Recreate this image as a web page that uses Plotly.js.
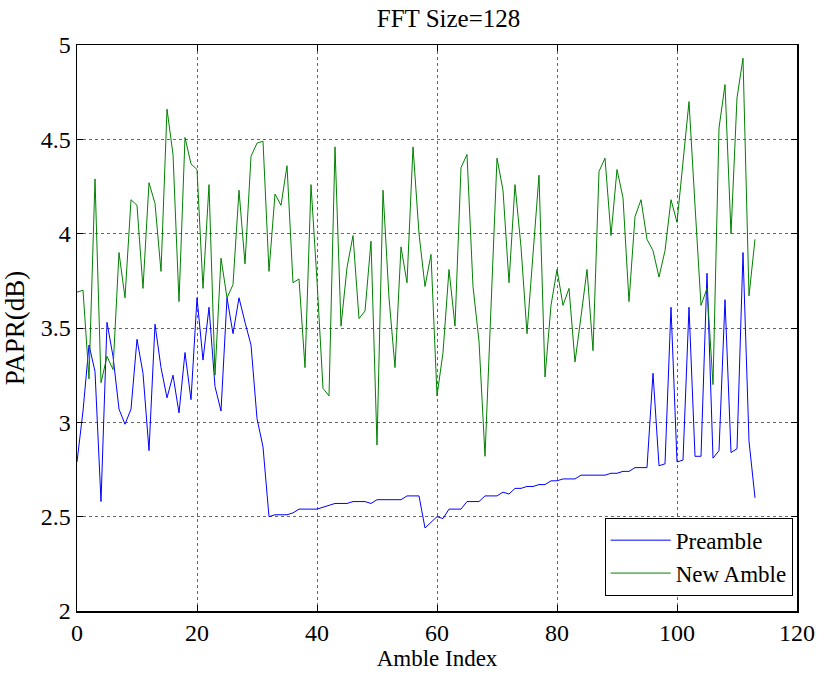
<!DOCTYPE html>
<html>
<head>
<meta charset="utf-8">
<script src="https://cdn.plot.ly/plotly-3.0.1.min.js"></script>
<style>html,body{margin:0;padding:0;background:#fff;}#chart{width:820px;height:675px;}</style>
</head>
<body>
<div id="chart"></div>
<script>
const ambleIndex = [];
for (let i = 0; i <= 113; i++) ambleIndex.push(i);

const preamble = [
  2.79, 3.06, 3.41, 3.27, 2.58, 3.53, 3.35, 3.07, 2.99, 3.07,
  3.44, 3.26, 2.85, 3.52, 3.29, 3.13, 3.25, 3.05, 3.37, 3.12,
  3.66, 3.33, 3.61, 3.19, 3.06, 3.66, 3.47, 3.66, 3.53, 3.41,
  3.02, 2.87, 2.50, 2.51, 2.51, 2.51, 2.52, 2.54, 2.54, 2.54,
  2.54, 2.55, 2.56, 2.57, 2.57, 2.57, 2.58, 2.58, 2.58, 2.57,
  2.59, 2.59, 2.59, 2.59, 2.59, 2.61, 2.61, 2.61, 2.44, 2.47,
  2.50, 2.49, 2.54, 2.54, 2.54, 2.58, 2.58, 2.58, 2.61, 2.61,
  2.61, 2.63, 2.62, 2.65, 2.65, 2.66, 2.66, 2.67, 2.67, 2.69,
  2.69, 2.70, 2.70, 2.70, 2.72, 2.72, 2.72, 2.72, 2.72, 2.73,
  2.73, 2.74, 2.74, 2.76, 2.76, 2.76, 3.26, 2.77, 2.78, 3.61,
  2.79, 2.80, 3.61, 2.82, 2.82, 3.79, 2.81, 2.85, 3.65, 2.84,
  2.86, 3.90, 2.90, 2.60
];

const newAmble = [
  3.69, 3.70, 3.23, 4.29, 3.21, 3.35, 3.28, 3.90, 3.66, 4.18,
  4.15, 3.71, 4.27, 4.16, 3.80, 4.66, 4.42, 3.64, 4.51, 4.37,
  4.34, 3.71, 4.26, 3.25, 3.87, 3.66, 3.73, 4.23, 3.84, 4.41,
  4.48, 4.49, 3.80, 4.21, 4.15, 4.36, 3.74, 3.76, 3.29, 4.26,
  3.75, 3.18, 3.14, 4.46, 3.51, 3.82, 3.99, 3.55, 3.59, 3.96,
  2.88, 4.23, 3.66, 3.29, 3.93, 3.74, 4.46, 4.00, 3.72, 3.89,
  3.14, 3.37, 3.81, 3.51, 4.35, 4.42, 3.72, 3.43, 2.82, 3.60,
  4.40, 4.23, 3.74, 4.26, 3.93, 3.47, 3.90, 4.31, 3.24, 3.62,
  3.81, 3.62, 3.71, 3.32, 3.56, 3.81, 3.38, 4.33, 4.40, 3.99,
  4.34, 4.19, 3.64, 4.09, 4.18, 3.97, 3.91, 3.77, 3.91, 4.18,
  4.06, 4.38, 4.70, 4.15, 3.62, 3.71, 3.20, 4.56, 4.79, 4.00,
  4.72, 4.93, 3.67, 3.97
];

const xTicks = [0, 20, 40, 60, 80, 100, 120];
const yTicks = [2, 2.5, 3, 3.5, 4, 4.5, 5];

const serif = "Liberation Serif, Times New Roman, serif";

const traces = [
  {x: ambleIndex, y: preamble, name: "Preamble", type: "scatter", mode: "lines",
   line: {color: "#0000ff", width: 1}},
  {x: ambleIndex, y: newAmble, name: "New Amble", type: "scatter", mode: "lines",
   line: {color: "#008000", width: 1}}
];

const axisCommon = {
  showline: true, mirror: "ticks", linecolor: "#000", linewidth: 1.5,
  ticks: "inside", ticklen: 6, tickcolor: "#000",
  showgrid: true, gridcolor: "#666", griddash: "dot", gridwidth: 1,
  zeroline: false, tickfont: {family: serif, size: 24, color: "#000"}
};

const layout = {
  width: 820, height: 675,
  margin: {l: 77, r: 23, t: 45, b: 64},
  paper_bgcolor: "#fff", plot_bgcolor: "#fff",
  showlegend: true,
  title: {text: "FFT Size=128", font: {family: serif, size: 25, color: "#000"},
          x: 0.547, xanchor: "center", y: 0.973, yanchor: "middle"},
  xaxis: Object.assign({}, axisCommon, {
    range: [0, 120], tickvals: xTicks, ticktext: xTicks.map(String),
    title: {text: "Amble Index", font: {family: serif, size: 23, color: "#000"}, standoff: 4}
  }),
  yaxis: Object.assign({}, axisCommon, {
    range: [2, 5], tickvals: yTicks, ticktext: yTicks.map(String),
    title: {text: "PAPR(dB)", font: {family: serif, size: 27, color: "#000"}, standoff: 10}
  }),
  legend: {
    x: 0.994, xanchor: "right", y: 0.027, yanchor: "bottom",
    bgcolor: "#fff", bordercolor: "#000", borderwidth: 1,
    font: {family: serif, size: 23, color: "#000"},
    itemwidth: 60, tracegroupgap: 0
  }
};

Plotly.newPlot("chart", traces, layout, {displayModeBar: false, staticPlot: true});
</script>
</body>
</html>
